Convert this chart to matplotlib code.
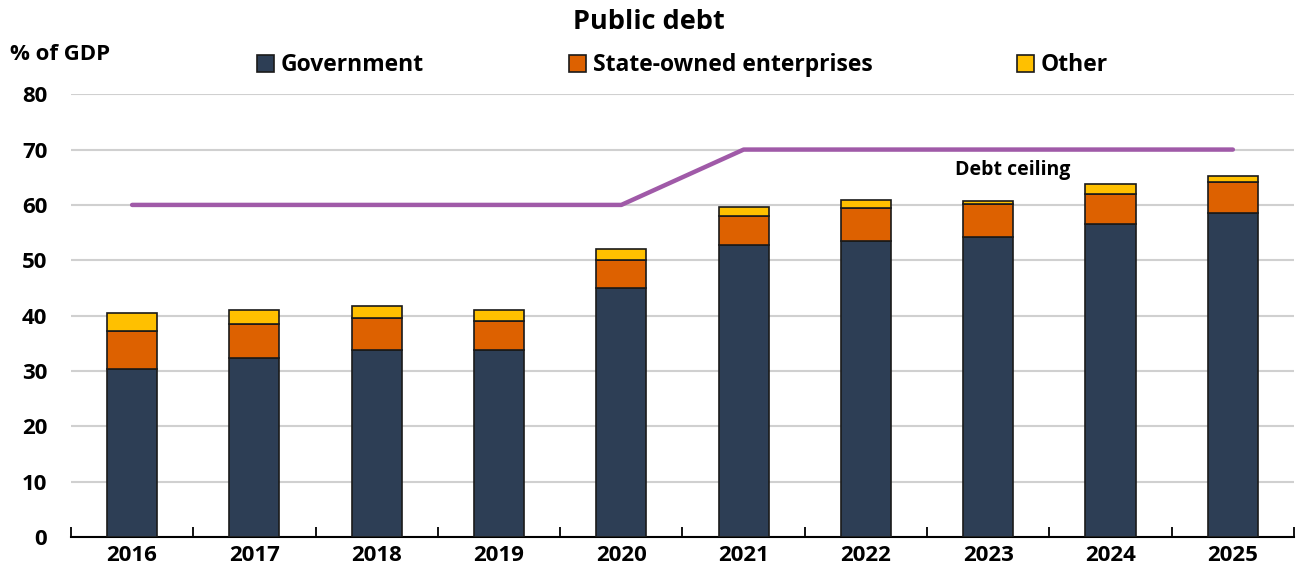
import numpy as np
import matplotlib.pyplot as plt

years = ['2016', '2017', '2018', '2019', '2020', '2021', '2022', '2023', '2024', '2025']
government = [30.4, 32.4, 33.8, 33.8, 45.0, 52.7, 53.5, 54.2, 56.5, 58.6]
soe = [6.8, 6.1, 5.7, 5.2, 5.0, 5.3, 5.9, 5.9, 5.5, 5.6]
other = [3.3, 2.6, 2.3, 2.1, 2.0, 1.6, 1.5, 0.6, 1.8, 1.1]
ceiling = [60, 60, 60, 60, 60, 70, 70, 70, 70, 70]

plt.rcParams['font.family'] = ['Open Sans', 'DejaVu Sans']
plt.rcParams['font.weight'] = 'bold'

x = np.arange(len(years))
gov = np.array(government)
s = np.array(soe)
o = np.array(other)

fig = plt.figure(figsize=(12.97, 5.71), dpi=100)
ax = fig.add_axes([0.0547, 0.0595, 0.943, 0.7755])

w = 0.41
ax.bar(x, gov, w, color='#2D3E55', edgecolor='#1a1a1a', linewidth=1.2,
       label='Government', zorder=3)
ax.bar(x, s, w, bottom=gov, color='#DD6100', edgecolor='#1a1a1a', linewidth=1.2,
       label='State-owned enterprises', zorder=3)
ax.bar(x, o, w, bottom=gov + s, color='#FFC000', edgecolor='#1a1a1a', linewidth=1.2,
       label='Other', zorder=3)
ax.plot(x, ceiling, color='#A05AA8', lw=3.2, solid_capstyle='round', zorder=4)
ax.text(7.2, 66.3, 'Debt ceiling', fontsize=14, fontweight='bold',
        ha='center', va='center')

ax.set_xlim(-0.5, len(years) - 0.5)
ax.set_ylim(0, 80)
ax.set_yticks(range(0, 81, 10))
ax.yaxis.grid(True, color='#d0d0d0', lw=1.5, zorder=0)
ax.set_axisbelow(True)
ax.tick_params(axis='y', length=0, labelsize=16, pad=17)

ax.set_xticks(x)
ax.set_xticklabels(years)
ax.set_xticks(np.arange(-0.5, len(years), 1), minor=True)
ax.tick_params(axis='x', which='major', length=0, labelsize=16, pad=6)
ax.tick_params(axis='x', which='minor', length=7, direction='in', width=1.3)
for sp in ['top', 'right', 'left']:
    ax.spines[sp].set_visible(False)
ax.spines['bottom'].set_linewidth(1.5)

fig.text(0.5, 0.961, 'Public debt', fontsize=19.5, fontweight='bold',
         ha='center', va='center')
fig.text(0.008, 0.904, '% of GDP', fontsize=16, fontweight='bold',
         ha='left', va='center')
ax.legend(loc='center', bbox_to_anchor=(0.5, 1.065), ncol=3, frameon=False,
          fontsize=16.5, handlelength=0.75, handleheight=0.75, handletextpad=0.3,
          columnspacing=6.3, borderaxespad=0)

fig.savefig('out.png', dpi=100)
